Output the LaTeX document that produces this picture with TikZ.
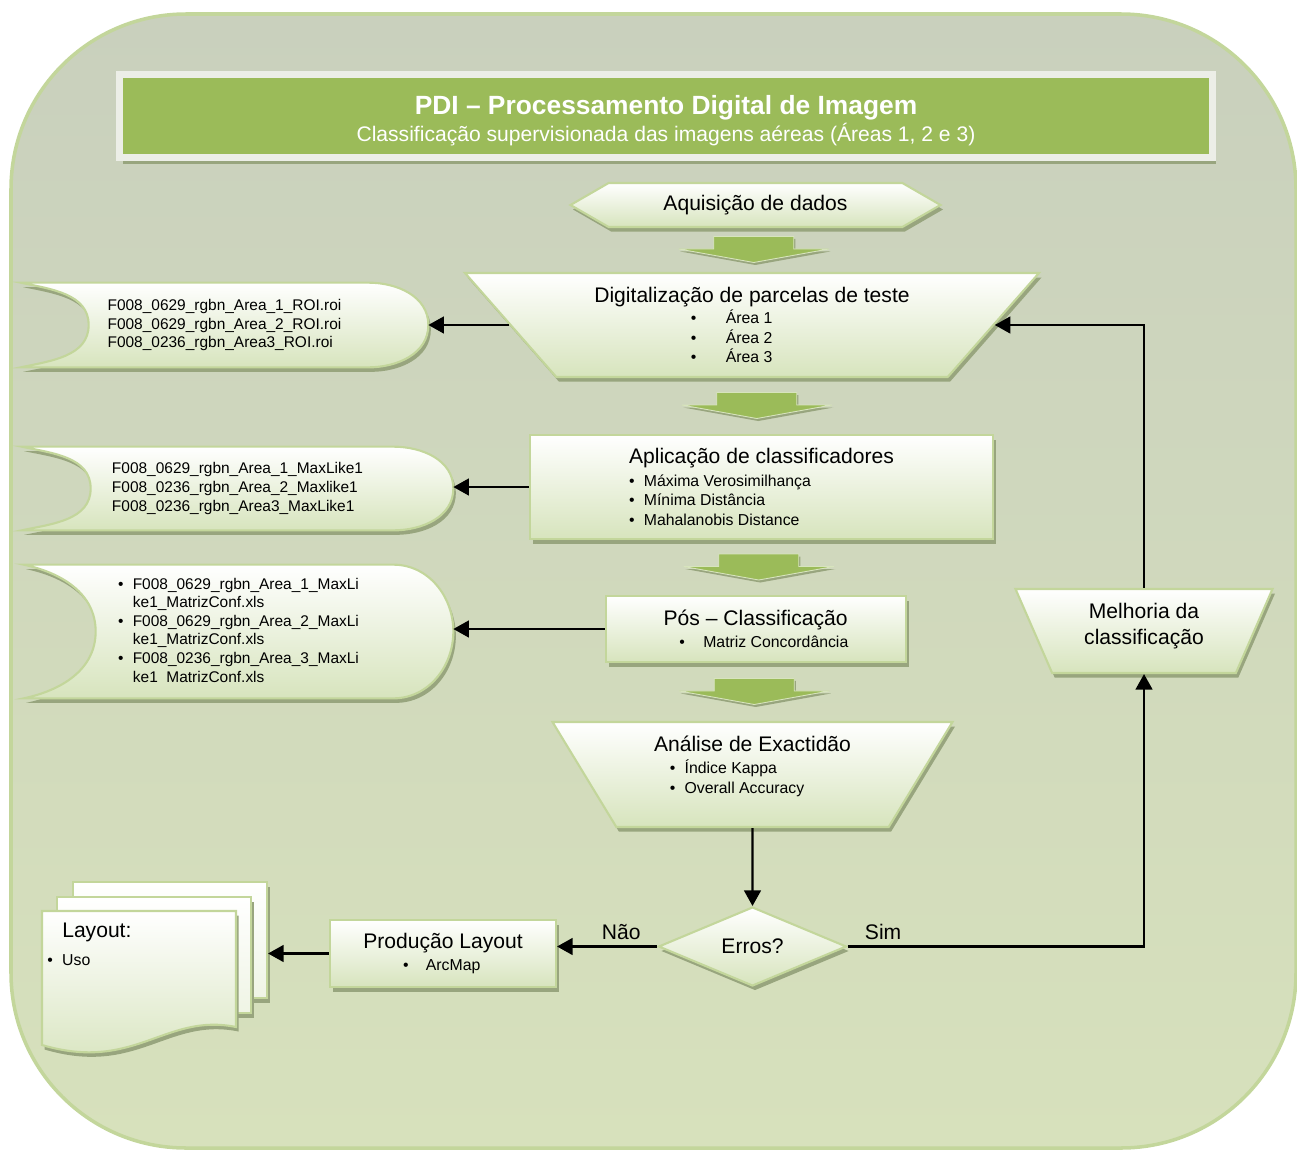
\documentclass[tikz,border=0pt]{standalone}
\usepackage{fontspec}
\setmainfont{Liberation Sans}
\usetikzlibrary{arrows.meta,shadows,positioning,shapes.geometric,shapes.symbols,calc}
\definecolor{olv}{RGB}{155,187,89}
\definecolor{brd}{RGB}{195,214,155}
\definecolor{lgr}{RGB}{215,228,189}
\definecolor{shd}{RGB}{152,165,126}
\definecolor{bgtop}{RGB}{201,208,189}
\definecolor{bgbot}{RGB}{215,225,188}
\definecolor{frm}{RGB}{236,238,231}
\pgfdeclarelayer{bg}
\pgfsetlayers{bg,main}
\newcommand{\mn}{\fontsize{12}{14}\selectfont}
\newcommand{\sm}{\fontsize{9}{11}\selectfont}
\newcommand{\bul}[1]{\textbullet\hspace{#1}}

\begin{document}
\begin{tikzpicture}[
    shdw/.style={drop shadow={shadow xshift=0.05cm,shadow yshift=-0.09cm,fill=shd,opacity=1}},
    box/.style={rectangle,draw=brd,line width=1.2pt,top color=white,bottom color=lgr,
                shdw,font=\sm,align=left,inner sep=2pt},
    trap/.style={trapezium,shape border rotate=180,trapezium stretches body,
                draw=brd,line width=1.2pt,top color=white,bottom color=lgr,
                shdw,font=\sm,align=left,inner sep=2pt},
    hexa/.style={signal,signal to=west and east,signal pointer angle=60,
                draw=brd,line width=1.2pt,top color=white,bottom color=lgr,shdw,
                font=\mn,minimum width=7.4cm,minimum height=0.88cm,inner sep=0pt},
    dia/.style={diamond,aspect=2.4,draw=brd,line width=1.2pt,top color=white,
                bottom color=lgr,shdw,font=\mn,inner sep=0pt,
                minimum width=3.76cm,minimum height=1.58cm},
    ttl/.style={rectangle,fill=olv,draw=frm,line width=0.14cm,text=white,align=center,
                font=\mn,minimum width=21.86cm,minimum height=1.66cm,
                drop shadow={shadow xshift=0.06cm,shadow yshift=-0.12cm,fill=shd,opacity=1}},
    stxt/.style={rectangle,font=\fontsize{8.8}{10.6}\selectfont,align=left,inner sep=0pt},
    store/.style={draw=brd,line width=1.2pt,top color=white,bottom color=lgr,shdw},
    page/.style={rectangle,draw=brd,line width=1.2pt,top color=white,
                bottom color=white!60!lgr,shdw,minimum width=3.88cm,minimum height=2.32cm},
    blk/.style={fill=olv,draw=lgr,line width=0.5pt,
                drop shadow={shadow xshift=0.03cm,shadow yshift=-0.05cm,fill=shd,opacity=1}},
    conn/.style={-{Triangle[length=8.8pt,width=9.5pt]},line width=1.2pt,black},
    lbl/.style={font=\mn}]
  \useasboundingbox (0,0) rectangle (25.94,-23);

  % main column
  \node[ttl] (ttl) at (13.32,-2.32)
    {\rule{0pt}{16pt}{\fontsize{15}{18}\selectfont\bfseries PDI – Processamento Digital de Imagem}\\[1pt]
     Classificação supervisionada das imagens aéreas (Áreas 1, 2 e 3)};
  \node[hexa] (aq) at (15.11,-4.10) {Aquisição de dados};
  \node[trap,trapezium left angle=42,trapezium right angle=42,
        minimum width=11.48cm,minimum height=2.08cm] (dig) at (15.04,-6.50)
    {{\mn Digitalização de parcelas de teste}\\[1pt]
     \hspace*{55pt}\bul{16.7pt}Área 1\\
     \hspace*{55pt}\bul{16.7pt}Área 2\\
     \hspace*{55pt}\bul{16.7pt}Área 3};
  \node[box,minimum width=9.26cm,minimum height=2.08cm] (apl) at (15.23,-9.74)
    {{\mn Aplicação de classificadores}\\[2pt]
     \bul{5.3pt}Máxima Verosimilhança\\
     \bul{5.3pt}Mínima Distância\\
     \bul{5.3pt}Mahalanobis Distance};
  \node[box,minimum width=6.0cm,minimum height=1.32cm] (pos) at (15.12,-12.58)
    {{\mn Pós – Classificação}\\[1.5pt]
     \hspace*{9pt}\bul{10.4pt}Matriz Concordância};
  \node[trap,trapezium left angle=52.5,trapezium right angle=52.5,
        minimum width=8.0cm,minimum height=2.1cm] (ana) at (15.05,-15.49)
    {{\mn Análise de Exactidão}\\[1.5pt]
     \hspace*{9pt}\bul{5.3pt}Índice Kappa\\
     \hspace*{9pt}\bul{5.3pt}Overall Accuracy\\
     \mbox{}};
  \node[trap,trapezium left angle=59.5,trapezium right angle=59.5,align=center,
        font=\mn,minimum width=5.14cm,minimum height=1.68cm] (mel) at (22.88,-12.62)
    {Melhoria da\\[0.7pt]classificação\\[-6pt]\mbox{}};
  \node[dia] (err) at (15.05,-18.93) {Erros?};
  \node[box,minimum width=4.52cm,minimum height=1.34cm] (prd) at (8.86,-19.07)
    {{\mn Produção Layout}\\[1.5pt]
     \hspace*{22.7pt}\bul{9.8pt}ArcMap};

  % outputs on the left
  \node[stxt,minimum width=8.14cm,minimum height=1.68cm] (roi) at (4.49,-6.50)
    {F008\_0629\_rgbn\_Area\_1\_ROI.roi\\
     F008\_0629\_rgbn\_Area\_2\_ROI.roi\\
     F008\_0236\_rgbn\_Area3\_ROI.roi};
  \node[stxt,minimum width=8.62cm,minimum height=1.66cm] (mlk) at (4.75,-9.77)
    {F008\_0629\_rgbn\_Area\_1\_MaxLike1\\
     F008\_0236\_rgbn\_Area\_2\_Maxlike1\\
     F008\_0236\_rgbn\_Area3\_MaxLike1};
  \node[stxt,minimum width=8.58cm,minimum height=2.66cm] (mtz) at (4.77,-12.63)
    {\bul{5.3pt}F008\_0629\_rgbn\_Area\_1\_MaxLi\\
     \hspace*{8.45pt}ke1\_MatrizConf.xls\\
     \bul{5.3pt}F008\_0629\_rgbn\_Area\_2\_MaxLi\\
     \hspace*{8.45pt}ke1\_MatrizConf.xls\\
     \bul{5.3pt}F008\_0236\_rgbn\_Area\_3\_MaxLi\\
     \hspace*{8.45pt}ke1\phantom{\_}MatrizConf.xls};
  \node[font=\mn,align=left,inner sep=0pt,anchor=north west] (lay) at (0.94,-18.45)
    {\hspace*{8.5pt}Layout:\\[2pt]
     {\sm\bul{5.3pt}Uso}};

  \begin{pgfonlayer}{bg}
    \draw[draw=brd,line width=2pt,rounded corners=3.5cm,top color=bgtop,bottom color=bgbot]
      (0.22,-0.28) rectangle (25.92,-22.96);
    \node[page] (pg1) at (3.40,-18.80) {};
    \node[page] (pg2) at (3.08,-19.10) {};
    \draw[store] (0.84,-18.22) -- (4.72,-18.22) -- (4.72,-20.54)
      .. controls (3.3,-20.25) and (2.7,-21.45) .. (0.84,-20.9) -- cycle;
    \foreach \n/\d in {roi/1.36,mlk/1.38,mtz/1.44}
      \draw[store] (\n.north west) to[out=-12,in=90] ([xshift=\d cm]\n.west)
        to[out=-90,in=12] (\n.south west) -- ([xshift=-1.2cm]\n.south east)
        to[out=0,in=-90] (\n.east) to[out=90,in=0] ([xshift=-1.2cm]\n.north east) -- cycle;
  \end{pgfonlayer}

  % block arrows down the column
  \foreach \a/\b in {aq/dig,dig/apl,apl/pos,pos/ana}
    \path[blk,shift={($(\a.south)!0.5!(\b.north)$)}] (-0.8,0.27) -- (0.8,0.27) -- (0.8,0.02)
      -- (1.5,0.02) -- (0,-0.25) -- (-1.5,0.02) -- (-0.8,0.02) -- cycle;

  % connectors
  \foreach \a/\b in {dig/roi,apl/mlk,pos/mtz}
    \draw[conn] (\a.west) -- (\a.west -| \b.east);
  \draw[conn] (ana.south) -- (err.north);
  \draw[conn] (err.west) -- node[lbl,pos=0.36,above] {Não} (err.west -| prd.east);
  \draw[conn] (err.east) -| node[lbl,pos=0.06,above] {Sim} (mel.south);
  \draw[conn] (mel.north) |- (dig.east);
  \draw[conn] (prd.west) -- (prd.west -| pg1.east);
\end{tikzpicture}
\end{document}
